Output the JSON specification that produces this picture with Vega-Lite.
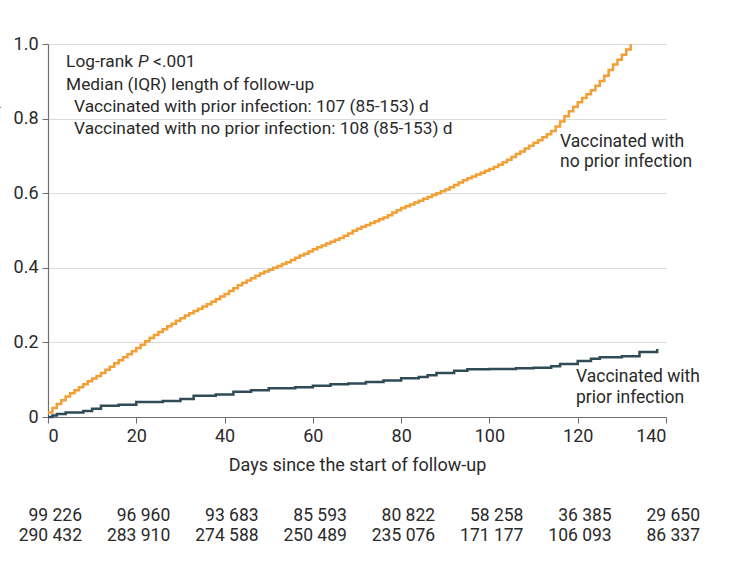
{
  "$schema": "https://vega.github.io/schema/vega-lite/v6.json",
  "padding": {"left": -17, "top": 35, "right": 5, "bottom": 5},
  "background": "white",
  "config": {
    "font": "Roboto",
    "view": {"stroke": null},
    "concat": {"spacing": 32},
    "axis": {"labelFont": "Roboto", "titleFont": "Roboto", "labelColor": "#2a2a2a", "titleColor": "#2a2a2a", "labelFontSize": 18, "titleFontSize": 18, "titleFontWeight": "normal", "domainColor": "#6f6f6f", "tickColor": "#6f6f6f", "gridColor": "#dcdcdc"}
  },
  "datasets": {
    "curves": [
      {"group": "no", "day": 0, "cum": 0.012}, {"group": "no", "day": 1, "cum": 0.024}, {"group": "no", "day": 2, "cum": 0.035}, {"group": "no", "day": 3, "cum": 0.045}, {"group": "no", "day": 4, "cum": 0.055}, {"group": "no", "day": 5, "cum": 0.064}, {"group": "no", "day": 6, "cum": 0.072}, {"group": "no", "day": 7, "cum": 0.08}, {"group": "no", "day": 8, "cum": 0.088}, {"group": "no", "day": 9, "cum": 0.096},
      {"group": "no", "day": 10, "cum": 0.103}, {"group": "no", "day": 11, "cum": 0.11}, {"group": "no", "day": 12, "cum": 0.118}, {"group": "no", "day": 13, "cum": 0.127}, {"group": "no", "day": 14, "cum": 0.135}, {"group": "no", "day": 15, "cum": 0.144}, {"group": "no", "day": 16, "cum": 0.152}, {"group": "no", "day": 17, "cum": 0.16}, {"group": "no", "day": 18, "cum": 0.168}, {"group": "no", "day": 19, "cum": 0.176},
      {"group": "no", "day": 20, "cum": 0.185}, {"group": "no", "day": 21, "cum": 0.194}, {"group": "no", "day": 22, "cum": 0.203}, {"group": "no", "day": 23, "cum": 0.212}, {"group": "no", "day": 24, "cum": 0.22}, {"group": "no", "day": 25, "cum": 0.228}, {"group": "no", "day": 26, "cum": 0.235}, {"group": "no", "day": 27, "cum": 0.243}, {"group": "no", "day": 28, "cum": 0.25}, {"group": "no", "day": 29, "cum": 0.258},
      {"group": "no", "day": 30, "cum": 0.265}, {"group": "no", "day": 31, "cum": 0.272}, {"group": "no", "day": 32, "cum": 0.278}, {"group": "no", "day": 33, "cum": 0.284}, {"group": "no", "day": 34, "cum": 0.29}, {"group": "no", "day": 35, "cum": 0.296}, {"group": "no", "day": 36, "cum": 0.302}, {"group": "no", "day": 37, "cum": 0.309}, {"group": "no", "day": 38, "cum": 0.316}, {"group": "no", "day": 39, "cum": 0.323},
      {"group": "no", "day": 40, "cum": 0.33}, {"group": "no", "day": 41, "cum": 0.338}, {"group": "no", "day": 42, "cum": 0.345}, {"group": "no", "day": 43, "cum": 0.353}, {"group": "no", "day": 44, "cum": 0.36}, {"group": "no", "day": 45, "cum": 0.366}, {"group": "no", "day": 46, "cum": 0.372}, {"group": "no", "day": 47, "cum": 0.379}, {"group": "no", "day": 48, "cum": 0.385}, {"group": "no", "day": 49, "cum": 0.39},
      {"group": "no", "day": 50, "cum": 0.395}, {"group": "no", "day": 51, "cum": 0.4}, {"group": "no", "day": 52, "cum": 0.405}, {"group": "no", "day": 53, "cum": 0.41}, {"group": "no", "day": 54, "cum": 0.415}, {"group": "no", "day": 55, "cum": 0.421}, {"group": "no", "day": 56, "cum": 0.427}, {"group": "no", "day": 57, "cum": 0.433}, {"group": "no", "day": 58, "cum": 0.438}, {"group": "no", "day": 59, "cum": 0.444},
      {"group": "no", "day": 60, "cum": 0.45}, {"group": "no", "day": 61, "cum": 0.455}, {"group": "no", "day": 62, "cum": 0.46}, {"group": "no", "day": 63, "cum": 0.465}, {"group": "no", "day": 64, "cum": 0.47}, {"group": "no", "day": 65, "cum": 0.475}, {"group": "no", "day": 66, "cum": 0.48}, {"group": "no", "day": 67, "cum": 0.486}, {"group": "no", "day": 68, "cum": 0.492}, {"group": "no", "day": 69, "cum": 0.499},
      {"group": "no", "day": 70, "cum": 0.505}, {"group": "no", "day": 71, "cum": 0.51}, {"group": "no", "day": 72, "cum": 0.515}, {"group": "no", "day": 73, "cum": 0.52}, {"group": "no", "day": 74, "cum": 0.525}, {"group": "no", "day": 75, "cum": 0.53}, {"group": "no", "day": 76, "cum": 0.535}, {"group": "no", "day": 77, "cum": 0.541}, {"group": "no", "day": 78, "cum": 0.548}, {"group": "no", "day": 79, "cum": 0.554},
      {"group": "no", "day": 80, "cum": 0.56}, {"group": "no", "day": 81, "cum": 0.565}, {"group": "no", "day": 82, "cum": 0.57}, {"group": "no", "day": 83, "cum": 0.575}, {"group": "no", "day": 84, "cum": 0.58}, {"group": "no", "day": 85, "cum": 0.585}, {"group": "no", "day": 86, "cum": 0.59}, {"group": "no", "day": 87, "cum": 0.595}, {"group": "no", "day": 88, "cum": 0.6}, {"group": "no", "day": 89, "cum": 0.605},
      {"group": "no", "day": 90, "cum": 0.61}, {"group": "no", "day": 91, "cum": 0.616}, {"group": "no", "day": 92, "cum": 0.622}, {"group": "no", "day": 93, "cum": 0.629}, {"group": "no", "day": 94, "cum": 0.635}, {"group": "no", "day": 95, "cum": 0.64}, {"group": "no", "day": 96, "cum": 0.645}, {"group": "no", "day": 97, "cum": 0.65}, {"group": "no", "day": 98, "cum": 0.655}, {"group": "no", "day": 99, "cum": 0.66},
      {"group": "no", "day": 100, "cum": 0.665}, {"group": "no", "day": 101, "cum": 0.67}, {"group": "no", "day": 102, "cum": 0.676}, {"group": "no", "day": 103, "cum": 0.683}, {"group": "no", "day": 104, "cum": 0.69}, {"group": "no", "day": 105, "cum": 0.697}, {"group": "no", "day": 106, "cum": 0.705}, {"group": "no", "day": 107, "cum": 0.712}, {"group": "no", "day": 108, "cum": 0.72}, {"group": "no", "day": 109, "cum": 0.727},
      {"group": "no", "day": 110, "cum": 0.735}, {"group": "no", "day": 111, "cum": 0.742}, {"group": "no", "day": 112, "cum": 0.75}, {"group": "no", "day": 113, "cum": 0.758}, {"group": "no", "day": 114, "cum": 0.767}, {"group": "no", "day": 115, "cum": 0.779}, {"group": "no", "day": 116, "cum": 0.792}, {"group": "no", "day": 117, "cum": 0.806}, {"group": "no", "day": 118, "cum": 0.82}, {"group": "no", "day": 119, "cum": 0.832},
      {"group": "no", "day": 120, "cum": 0.844}, {"group": "no", "day": 121, "cum": 0.855}, {"group": "no", "day": 122, "cum": 0.865}, {"group": "no", "day": 123, "cum": 0.876}, {"group": "no", "day": 124, "cum": 0.888}, {"group": "no", "day": 125, "cum": 0.901}, {"group": "no", "day": 126, "cum": 0.915}, {"group": "no", "day": 127, "cum": 0.93}, {"group": "no", "day": 128, "cum": 0.945}, {"group": "no", "day": 129, "cum": 0.958},
      {"group": "no", "day": 130, "cum": 0.971}, {"group": "no", "day": 131, "cum": 0.985}, {"group": "no", "day": 132, "cum": 1.0},
      {"group": "prior", "day": 0, "cum": 0}, {"group": "prior", "day": 1, "cum": 0.004}, {"group": "prior", "day": 2, "cum": 0.008}, {"group": "prior", "day": 4, "cum": 0.012}, {"group": "prior", "day": 8, "cum": 0.016}, {"group": "prior", "day": 10, "cum": 0.022}, {"group": "prior", "day": 12, "cum": 0.03}, {"group": "prior", "day": 16, "cum": 0.033}, {"group": "prior", "day": 20, "cum": 0.04}, {"group": "prior", "day": 26, "cum": 0.043}, {"group": "prior", "day": 30, "cum": 0.048}, {"group": "prior", "day": 33, "cum": 0.057}, {"group": "prior", "day": 38, "cum": 0.06}, {"group": "prior", "day": 42, "cum": 0.068}, {"group": "prior", "day": 46, "cum": 0.072}, {"group": "prior", "day": 50, "cum": 0.077}, {"group": "prior", "day": 56, "cum": 0.08}, {"group": "prior", "day": 60, "cum": 0.084}, {"group": "prior", "day": 64, "cum": 0.088}, {"group": "prior", "day": 68, "cum": 0.09}, {"group": "prior", "day": 72, "cum": 0.094}, {"group": "prior", "day": 76, "cum": 0.098}, {"group": "prior", "day": 80, "cum": 0.104}, {"group": "prior", "day": 84, "cum": 0.107}, {"group": "prior", "day": 86, "cum": 0.112}, {"group": "prior", "day": 88, "cum": 0.118}, {"group": "prior", "day": 92, "cum": 0.124}, {"group": "prior", "day": 95, "cum": 0.128}, {"group": "prior", "day": 100, "cum": 0.129}, {"group": "prior", "day": 106, "cum": 0.131}, {"group": "prior", "day": 110, "cum": 0.132}, {"group": "prior", "day": 114, "cum": 0.136}, {"group": "prior", "day": 116, "cum": 0.142}, {"group": "prior", "day": 120, "cum": 0.15}, {"group": "prior", "day": 123, "cum": 0.156}, {"group": "prior", "day": 125, "cum": 0.16}, {"group": "prior", "day": 130, "cum": 0.163}, {"group": "prior", "day": 134, "cum": 0.174}, {"group": "prior", "day": 138, "cum": 0.182}
    ],
    "atrisk": [
      {"row": "prior", "day": 0, "n": "99 226"}, {"row": "prior", "day": 20, "n": "96 960"}, {"row": "prior", "day": 40, "n": "93 683"}, {"row": "prior", "day": 60, "n": "85 593"}, {"row": "prior", "day": 80, "n": "80 822"}, {"row": "prior", "day": 100, "n": "58 258"}, {"row": "prior", "day": 120, "n": "36 385"}, {"row": "prior", "day": 140, "n": "29 650"},
      {"row": "no", "day": 0, "n": "290 432"}, {"row": "no", "day": 20, "n": "283 910"}, {"row": "no", "day": 40, "n": "274 588"}, {"row": "no", "day": 60, "n": "250 489"}, {"row": "no", "day": 80, "n": "235 076"}, {"row": "no", "day": 100, "n": "171 177"}, {"row": "no", "day": 120, "n": "106 093"}, {"row": "no", "day": 140, "n": "86 337"}
    ]
  },
  "vconcat": [
    {
      "width": 618,
      "height": 373,
      "layer": [
        {
          "data": {"name": "curves"},
          "mark": {"type": "line", "interpolate": "step-after", "strokeWidth": 2.5},
          "encoding": {
            "x": {"field": "day", "type": "quantitative", "scale": {"domain": [0, 140], "nice": false}, "axis": {"values": [0, 20, 40, 60, 80, 100, 120, 140], "grid": false, "title": "Days since the start of follow-up", "titlePadding": 11, "labelPadding": 4, "tickSize": 6, "domainWidth": 1.2}},
            "y": {"field": "cum", "type": "quantitative", "scale": {"domain": [0, 1], "nice": false}, "axis": {"values": [0, 0.2, 0.4, 0.6, 0.8, 1.0], "labelExpr": "datum.value == 0 ? '0' : format(datum.value, '.1f')", "title": "Cumulative SARS-CoV-2 infection, %", "titlePadding": 12, "labelPadding": 4, "tickSize": 6, "domainWidth": 1.2}},
            "color": {"field": "group", "type": "nominal", "scale": {"domain": ["no", "prior"], "range": ["#F29F36", "#2E4B56"]}, "legend": null},
            "detail": {"field": "group"}
          }
        },
        {
          "data": {"values": [{}]},
          "mark": {"type": "text", "align": "left", "baseline": "middle", "fontSize": 17.5, "color": "#2a2a2a", "lineHeight": 20},
          "encoding": {"x": {"datum": 116}, "y": {"datum": 0.737}, "text": {"value": ["Vaccinated with", "no prior infection"]}}
        },
        {
          "data": {"values": [{}]},
          "mark": {"type": "text", "align": "left", "baseline": "middle", "fontSize": 17.5, "color": "#2a2a2a", "lineHeight": 21},
          "encoding": {"x": {"datum": 119.6}, "y": {"datum": 0.108}, "text": {"value": ["Vaccinated with", "prior infection"]}}
        },
        {
          "data": {"values": [{}]},
          "mark": {"type": "text", "align": "left", "baseline": "middle", "fontSize": 17.3, "color": "#2a2a2a"},
          "encoding": {"x": {"datum": 4.1}, "y": {"datum": 0.952}, "text": {"value": "Log-rank"}}
        },
        {
          "data": {"values": [{}]},
          "mark": {"type": "text", "align": "left", "baseline": "middle", "fontSize": 17.3, "color": "#2a2a2a", "fontStyle": "italic", "dx": 72},
          "encoding": {"x": {"datum": 4.1}, "y": {"datum": 0.952}, "text": {"value": "P"}}
        },
        {
          "data": {"values": [{}]},
          "mark": {"type": "text", "align": "left", "baseline": "middle", "fontSize": 17.3, "color": "#2a2a2a", "dx": 87},
          "encoding": {"x": {"datum": 4.1}, "y": {"datum": 0.952}, "text": {"value": "<.001"}}
        },
        {
          "data": {"values": [{}]},
          "mark": {"type": "text", "align": "left", "baseline": "middle", "fontSize": 17.3, "color": "#2a2a2a"},
          "encoding": {"x": {"datum": 4.1}, "y": {"datum": 0.889}, "text": {"value": "Median (IQR) length of follow-up"}}
        },
        {
          "data": {"values": [{}]},
          "mark": {"type": "text", "align": "left", "baseline": "middle", "fontSize": 17.3, "color": "#2a2a2a"},
          "encoding": {"x": {"datum": 5.9}, "y": {"datum": 0.83}, "text": {"value": "Vaccinated with prior infection: 107 (85-153) d"}}
        },
        {
          "data": {"values": [{}]},
          "mark": {"type": "text", "align": "left", "baseline": "middle", "fontSize": 17.3, "color": "#2a2a2a"},
          "encoding": {"x": {"datum": 5.9}, "y": {"datum": 0.771}, "text": {"value": "Vaccinated with no prior infection: 108 (85-153) d"}}
        }
      ]
    },
    {
      "width": 618,
      "height": 40,
      "data": {"name": "atrisk"},
      "mark": {"type": "text", "align": "right", "baseline": "middle", "fontSize": 17.5, "color": "#2a2a2a", "dx": 34},
      "encoding": {
        "x": {"field": "day", "type": "quantitative", "scale": {"domain": [0, 140], "nice": false}, "axis": null},
        "y": {"field": "row", "type": "nominal", "scale": {"domain": ["prior", "no"], "type": "point", "padding": 0.5}, "axis": null},
        "text": {"field": "n", "type": "nominal"}
      }
    }
  ]
}
